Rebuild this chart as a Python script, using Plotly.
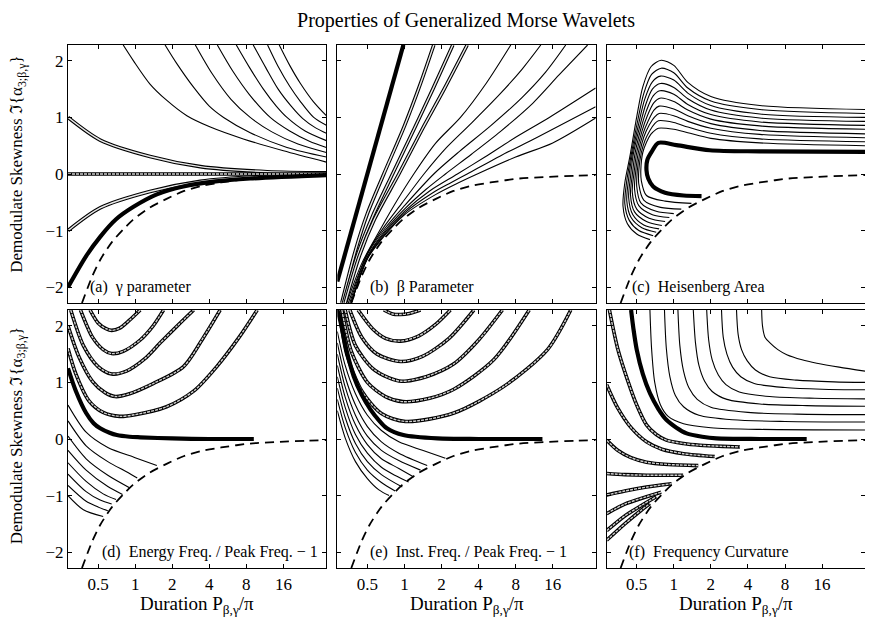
import math
import plotly.graph_objects as go
from plotly.subplots import make_subplots

# ---------------- axes ----------------
X_MIN, X_MAX = 0.285, 35.7
Y_MIN, Y_MAX = -2.28, 2.28
X_TICKS = [0.5, 1, 2, 4, 8, 16]
X_TICKTEXT = ["0.5", "1", "2", "4", "8", "16"]
Y_TICKS = [-2, -1, 0, 1, 2]

TITLE = "Properties of Generalized Morse Wavelets"
Y_TITLE = "Demodulate Skewness \u2111{\u03b1<sub>3;\u03b2,\u03b3</sub>}"
X_TITLE = "Duration P<sub>\u03b2,\u03b3</sub>/\u03c0"
PANEL_LABELS = ["(a)  \u03b3 parameter", "(b)  \u03b2 Parameter", "(c)  Heisenberg Area",
                "(d)  Energy Freq. / Peak Freq. \u2212 1", "(e)  Inst. Freq. / Peak Freq. \u2212 1",
                "(f)  Frequency Curvature"]

# ---------------- common dashed bound ----------------
DASH_X = [0.37, 0.45, 0.52, 0.65, 0.8, 0.96, 1.3, 1.8, 2.5, 3.5, 5, 8.6, 15, 25, 35.7]
DASH_Y = [-2.28, -1.8, -1.52, -1.2, -0.98, -0.81, -0.6, -0.44, -0.3, -0.21, -0.15, -0.08, -0.05, -0.03, -0.02]

# ---------------- (a) gamma parameter ----------------
A_THIN_X = [
    [0.8, 0.97, 1.32, 1.81, 2.63, 4.08, 7.56, 16, 35.7],
    [1.75, 2.18, 2.99, 4.0, 5.23, 8.6, 17.1, 35.7],
    [3.08, 4.2, 6, 8.6, 13, 21, 35.7],
    [4.65, 6.2, 8.5, 12.5, 18, 26, 35.7],
    [6.63, 8.5, 11, 14, 17.1, 24, 35.7],
    [9.1, 11.5, 14.5, 18.5, 23, 29, 35.7],
    [11.9, 14.5, 18, 22, 28.2, 35.7],
    [14.8, 18, 22, 28, 35.7],
]
A_THIN_Y = [
    [2.28, 2.0, 1.59, 1.30, 1.03, 0.83, 0.62, 0.41, 0.21],
    [2.28, 1.95, 1.53, 1.2, 1.0, 0.73, 0.47, 0.30],
    [2.28, 1.78, 1.32, 1.0, 0.74, 0.53, 0.38],
    [2.28, 1.82, 1.4, 1.0, 0.76, 0.58, 0.47],
    [2.28, 1.88, 1.5, 1.2, 1.0, 0.76, 0.59],
    [2.28, 1.88, 1.5, 1.2, 0.98, 0.82, 0.72],
    [2.28, 1.9, 1.55, 1.28, 1.0, 0.86],
    [2.28, 1.92, 1.6, 1.28, 1.03],
]
A_DOUBLE_X = [[0.285, 0.52, 1.32, 3.38, 11.8, 35.7], [0.285, 0.52, 1.32, 3.38, 11.8, 35.7]]
A_DOUBLE_Y = [[1.0, 0.60, 0.31, 0.13, 0.04, 0.02], [-1.0, -0.60, -0.31, -0.13, -0.04, -0.02]]
A_HATCH_X = [[0.285, 35.7]]
A_HATCH_Y = [[0.0, 0.0]]
A_THICK_X = [0.285, 0.4, 0.52, 0.7, 0.97, 1.5, 2.46, 4.5, 8.6, 35.7]
A_THICK_Y = [-2.0, -1.45, -1.11, -0.8, -0.58, -0.36, -0.22, -0.13, -0.08, -0.02]

# ---------------- (b) beta parameter ----------------
B_THICK_X = [0.285, 0.98]
B_THICK_Y = [-1.9, 2.28]
B_DOUBLE_X = [
    [0.31, 0.4, 0.5, 0.68, 1.0, 1.35, 1.73],
    [0.32, 0.42, 0.55, 0.8, 1.2, 1.7, 2.47],
    [0.33, 0.43, 0.57, 0.9, 1.4, 2.1, 3.23],
]
B_DOUBLE_Y = [
    [-2.28, -1.35, -0.7, 0, 0.85, 1.6, 2.28],
    [-2.28, -1.4, -0.75, 0, 0.8, 1.5, 2.28],
    [-2.28, -1.45, -0.8, 0, 0.8, 1.5, 2.28],
]
B_THIN_X = [
    [0.34, 0.45, 0.6, 0.8, 1.19, 1.8, 2.85, 4.6, 7.3],
    [0.35, 0.5, 0.7, 0.95, 1.44, 2.2, 3.5, 6, 9, 12.8],
    [0.36, 0.5, 0.7, 1.0, 1.73, 2.8, 5, 9, 14, 20.4],
    [0.37, 0.5, 0.7, 1.0, 1.5, 2.15, 3.5, 6, 11, 18, 30.7],
    [0.37, 0.5, 0.7, 1.0, 1.6, 2.69, 4.5, 8, 15, 35.7],
    [0.37, 0.5, 0.7, 1.0, 1.7, 2.4, 3.23, 6, 12, 35.7],
    [0.37, 0.5, 0.7, 1.0, 1.8, 2.6, 3.9, 8, 16, 35.7],
]
B_THIN_Y = [
    [-2.28, -1.58, -1.08, -0.6, 0, 0.55, 1.0, 1.6, 2.28],
    [-2.28, -1.4, -0.9, -0.52, 0, 0.47, 0.9, 1.42, 1.85, 2.28],
    [-2.28, -1.42, -0.95, -0.56, 0, 0.4, 0.85, 1.35, 1.8, 2.28],
    [-2.28, -1.46, -0.99, -0.62, -0.27, 0, 0.35, 0.75, 1.25, 1.75, 2.28],
    [-2.28, -1.48, -1.02, -0.66, -0.3, 0, 0.3, 0.65, 1.0, 1.52],
    [-2.28, -1.49, -1.05, -0.69, -0.33, -0.15, 0, 0.32, 0.65, 1.19],
    [-2.28, -1.5, -1.07, -0.72, -0.36, -0.18, 0, 0.3, 0.55, 0.99],
]

# ---------------- (c) Heisenberg area ----------------
C_THIN_X = [
    [1.39, 0.85, 0.60, 0.545, 0.54, 0.56, 0.60, 0.65, 0.71, 0.75, 1.0, 1.3, 2.0, 5, 35.7],
    [1.15, 0.78, 0.57, 0.52, 0.52, 0.545, 0.585, 0.64, 0.70, 0.75, 1.0, 1.3, 2.0, 5, 35.7],
    [1.0, 0.72, 0.54, 0.50, 0.505, 0.53, 0.57, 0.63, 0.70, 0.76, 1.0, 1.3, 2.0, 5, 35.7],
    [0.92, 0.67, 0.52, 0.48, 0.49, 0.515, 0.56, 0.62, 0.69, 0.76, 1.0, 1.3, 2.0, 5, 35.7],
    [0.85, 0.63, 0.50, 0.46, 0.475, 0.50, 0.55, 0.61, 0.69, 0.77, 1.0, 1.3, 2.0, 5, 35.7],
    [0.80, 0.60, 0.48, 0.445, 0.46, 0.485, 0.54, 0.60, 0.68, 0.77, 1.0, 1.3, 2.0, 5, 35.7],
    [0.76, 0.57, 0.465, 0.43, 0.445, 0.47, 0.53, 0.59, 0.67, 0.78, 1.0, 1.3, 2.0, 5, 35.7],
    [0.72, 0.55, 0.45, 0.415, 0.43, 0.46, 0.52, 0.58, 0.67, 0.78, 1.0, 1.3, 2.0, 5, 35.7],
    [0.68, 0.52, 0.435, 0.40, 0.415, 0.45, 0.51, 0.57, 0.66, 0.79, 1.0, 1.3, 2.0, 5, 35.7],
    [0.64, 0.50, 0.42, 0.387, 0.40, 0.44, 0.50, 0.56, 0.655, 0.79, 1.0, 1.3, 2.0, 5, 35.7],
]
C_THIN_Y = [
    [-0.52, -0.48, -0.38, -0.12, 0.08, 0.38, 0.56, 0.70, 0.78, 0.81, 0.79, 0.73, 0.63, 0.55, 0.50],
    [-0.62, -0.59, -0.46, -0.18, 0.07, 0.38, 0.60, 0.77, 0.89, 0.94, 0.91, 0.83, 0.72, 0.62, 0.57],
    [-0.70, -0.66, -0.51, -0.22, 0.05, 0.38, 0.65, 0.86, 1.01, 1.07, 1.03, 0.93, 0.81, 0.70, 0.64],
    [-0.77, -0.72, -0.56, -0.27, 0.03, 0.38, 0.70, 0.94, 1.13, 1.20, 1.15, 1.03, 0.89, 0.77, 0.71],
    [-0.84, -0.78, -0.62, -0.32, 0.01, 0.38, 0.75, 1.03, 1.26, 1.34, 1.28, 1.13, 0.97, 0.85, 0.79],
    [-0.91, -0.84, -0.67, -0.37, -0.02, 0.37, 0.80, 1.12, 1.38, 1.47, 1.41, 1.23, 1.05, 0.92, 0.86],
    [-0.97, -0.90, -0.72, -0.42, -0.05, 0.36, 0.85, 1.22, 1.50, 1.60, 1.53, 1.33, 1.13, 0.99, 0.93],
    [-1.03, -0.95, -0.77, -0.47, -0.08, 0.35, 0.90, 1.32, 1.63, 1.73, 1.66, 1.43, 1.21, 1.06, 1.0],
    [-1.09, -1.0, -0.82, -0.52, -0.12, 0.33, 0.95, 1.42, 1.76, 1.87, 1.79, 1.52, 1.29, 1.14, 1.07],
    [-1.16, -1.06, -0.88, -0.57, -0.16, 0.31, 1.01, 1.54, 1.90, 2.01, 1.92, 1.62, 1.37, 1.21, 1.14],
]
C_THICK_X = [1.68, 1.2, 0.85, 0.68, 0.62, 0.60, 0.61, 0.66, 0.75, 1.05, 1.96, 5, 35.7]
C_THICK_Y = [-0.39, -0.38, -0.33, -0.22, -0.08, 0.07, 0.25, 0.39, 0.55, 0.51, 0.42, 0.40, 0.39]

# ---------------- (d) energy frequency ----------------
D_DOUBLE_X = [
    [0.43, 0.5, 0.58, 0.645, 0.75, 0.9, 1.1],
    [0.36, 0.45, 0.55, 0.645, 0.8, 1.1, 1.4, 1.7],
    [0.30, 0.38, 0.5, 0.645, 0.85, 1.2, 1.6, 2.2, 2.99],
    [0.285, 0.35, 0.45, 0.57, 0.69, 0.9, 1.4, 2.47, 3.6, 4.9],
    [0.285, 0.33, 0.42, 0.55, 0.75, 1.0, 1.8, 3, 4.6, 7, 9.8],
]
D_DOUBLE_Y = [
    [2.28, 2.05, 1.95, 1.92, 1.96, 2.1, 2.28],
    [2.28, 1.8, 1.58, 1.51, 1.55, 1.75, 2.0, 2.28],
    [2.28, 1.65, 1.28, 1.15, 1.2, 1.42, 1.70, 2.0, 2.28],
    [2.0, 1.45, 1.02, 0.82, 0.75, 0.80, 0.98, 1.28, 1.8, 2.28],
    [1.6, 1.15, 0.68, 0.47, 0.40, 0.43, 0.57, 0.85, 1.28, 1.8, 2.28],
]
D_THICK_X = [0.285, 0.33, 0.40, 0.46, 0.52, 0.62, 0.71, 0.9, 1.1, 2, 4, 9.2]
D_THICK_Y = [1.25, 0.85, 0.46, 0.28, 0.19, 0.11, 0.07, 0.04, 0.03, 0.01, 0.0, 0.0]
D_THIN_X = [
    [0.285, 0.4, 0.6, 1.0, 1.5],
    [0.285, 0.4, 0.6, 0.85, 1.04],
    [0.285, 0.4, 0.6, 0.9],
    [0.285, 0.4, 0.6, 0.79],
    [0.285, 0.4, 0.55, 0.70],
    [0.285, 0.4, 0.52, 0.645],
    [0.285, 0.4, 0.5, 0.60],
    [0.285, 0.38, 0.55],
]
D_THIN_Y = [
    [0.60, 0.12, -0.15, -0.33, -0.47],
    [0.32, -0.12, -0.40, -0.58, -0.69],
    [0.05, -0.35, -0.64, -0.86],
    [-0.2, -0.55, -0.84, -0.98],
    [-0.42, -0.75, -0.97, -1.07],
    [-0.62, -0.93, -1.08, -1.15],
    [-0.82, -1.1, -1.2, -1.27],
    [-1.0, -1.25, -1.37],
]

# ---------------- (e) instantaneous frequency ----------------
E_DOUBLE_X = [
    [0.68, 0.8, 0.93, 1.1, 1.35],
    [0.42, 0.55, 0.7, 0.93, 1.3, 1.8, 2.36],
    [0.36, 0.45, 0.6, 0.93, 1.4, 2.3, 3.66],
    [0.33, 0.4, 0.55, 0.75, 0.95, 1.5, 2.52, 4, 6.24],
    [0.31, 0.37, 0.5, 0.7, 0.97, 1.6, 2.52, 5.3, 10.3],
    [0.295, 0.34, 0.45, 0.65, 1.02, 2.52, 6.42, 14.5, 22.4],
]
E_DOUBLE_Y = [
    [2.28, 2.21, 2.2, 2.22, 2.28],
    [2.28, 1.95, 1.78, 1.73, 1.82, 2.03, 2.28],
    [2.28, 1.8, 1.5, 1.37, 1.46, 1.78, 2.28],
    [2.28, 1.65, 1.25, 1.08, 1.02, 1.1, 1.33, 1.75, 2.28],
    [2.28, 1.55, 1.0, 0.75, 0.66, 0.72, 0.88, 1.40, 2.28],
    [2.28, 1.5, 0.85, 0.45, 0.31, 0.46, 0.93, 1.58, 2.28],
]
E_THICK_X = [0.285, 0.30, 0.34, 0.387, 0.45, 0.53, 0.62, 0.72, 0.98, 1.85, 4, 13.2]
E_THICK_Y = [2.28, 2.11, 1.55, 1.11, 0.78, 0.52, 0.33, 0.19, 0.07, 0.01, 0.0, 0.0]
E_THIN_X = [
    [0.285, 0.33, 0.4, 0.5, 0.65, 0.9, 1.4, 2.15],
    [0.285, 0.33, 0.4, 0.5, 0.65, 0.9, 1.53],
    [0.285, 0.33, 0.4, 0.5, 0.65, 0.9, 1.35],
    [0.285, 0.33, 0.4, 0.5, 0.65, 0.9, 1.19],
    [0.285, 0.33, 0.4, 0.5, 0.65, 0.85, 1.08],
    [0.285, 0.33, 0.4, 0.5, 0.65, 0.96],
    [0.285, 0.33, 0.4, 0.5, 0.65, 0.84],
    [0.285, 0.33, 0.4, 0.5, 0.62, 0.75],
]
E_THIN_Y = [
    [1.9, 1.3, 0.8, 0.42, 0.15, -0.05, -0.2, -0.34],
    [1.7, 1.1, 0.6, 0.22, -0.05, -0.25, -0.47],
    [1.5, 0.92, 0.42, 0.05, -0.2, -0.38, -0.55],
    [1.3, 0.74, 0.25, -0.1, -0.35, -0.52, -0.67],
    [1.1, 0.56, 0.08, -0.25, -0.5, -0.65, -0.76],
    [0.9, 0.38, -0.08, -0.4, -0.63, -0.85],
    [0.7, 0.2, -0.24, -0.55, -0.77, -0.92],
    [0.5, 0.02, -0.4, -0.7, -0.9, -1.0],
]

# ---------------- (f) frequency curvature ----------------
F_THIN_X = [
    [0.64, 0.66, 0.70, 0.78, 0.9, 1.2, 2, 5, 35.7],
    [0.84, 0.87, 0.93, 1.03, 1.2, 1.6, 3, 8, 35.7],
    [1.08, 1.12, 1.2, 1.33, 1.55, 2.0, 4, 10, 35.7],
    [1.44, 1.5, 1.6, 1.78, 2.05, 2.7, 5, 12, 35.7],
    [1.85, 1.92, 2.05, 2.3, 2.65, 3.4, 6, 14, 35.7],
    [2.44, 2.52, 2.7, 3.0, 3.5, 4.5, 8, 16, 35.7],
    [3.23, 3.33, 3.55, 3.95, 4.6, 6, 10, 20, 35.7],
    [5.17, 5.25, 5.5, 6.04, 7, 8.27, 11, 14.5, 22, 35.7],
]
F_THIN_Y = [
    [2.28, 1.6, 1.0, 0.6, 0.4, 0.27, 0.2, 0.17, 0.16],
    [2.28, 1.6, 1.1, 0.77, 0.57, 0.42, 0.34, 0.31, 0.30],
    [2.28, 1.65, 1.2, 0.9, 0.7, 0.56, 0.47, 0.44, 0.43],
    [2.28, 1.7, 1.3, 1.02, 0.84, 0.70, 0.62, 0.59, 0.58],
    [2.28, 1.75, 1.4, 1.13, 0.96, 0.83, 0.75, 0.72, 0.71],
    [2.28, 1.8, 1.5, 1.27, 1.1, 0.98, 0.91, 0.88, 0.87],
    [2.28, 1.85, 1.58, 1.38, 1.22, 1.1, 1.04, 1.01, 1.0],
    [2.28, 2.0, 1.8, 1.7, 1.58, 1.49, 1.4, 1.34, 1.27, 1.2],
]
F_THICK_X = [0.45, 0.47, 0.50, 0.56, 0.64, 0.75, 0.87, 1.05, 1.27, 1.7, 2.22, 5, 12]
F_THICK_Y = [2.28, 1.95, 1.58, 1.15, 0.81, 0.53, 0.34, 0.2, 0.10, 0.04, 0.01, 0.0, 0.0]
F_DOUBLE_X = [
    [0.30, 0.35, 0.42, 0.5, 0.6, 0.72, 0.87, 1.2, 1.63, 2.5, 3.44],
    [0.285, 0.35, 0.45, 0.6, 0.8, 1.2, 2.15],
    [0.285, 0.35, 0.45, 0.6, 0.9, 1.58],
    [0.285, 0.4, 0.6, 0.9, 1.19],
    [0.285, 0.4, 0.6, 0.96],
    [0.285, 0.4, 0.6, 0.79],
    [0.285, 0.4, 0.55, 0.72],
    [0.285, 0.4, 0.55, 0.64],
]
F_DOUBLE_Y = [
    [2.28, 1.6, 1.05, 0.6, 0.25, 0.08, -0.02, -0.08, -0.11, -0.13, -0.14],
    [0.96, 0.55, 0.2, -0.05, -0.18, -0.26, -0.31],
    [-0.02, -0.2, -0.33, -0.41, -0.45, -0.47],
    [-0.61, -0.63, -0.64, -0.64, -0.64],
    [-0.99, -0.92, -0.85, -0.79],
    [-1.32, -1.15, -1.02, -0.94],
    [-1.62, -1.36, -1.17, -1.02],
    [-1.79, -1.5, -1.25, -1.14],
]

# ---------------- figure ----------------
fig = make_subplots(rows=2, cols=3, horizontal_spacing=0.0138, vertical_spacing=0.0134)
FONT = "Liberation Serif, Times New Roman, serif"


def add(x, y, r, c, style):
    if style == "thin":
        fig.add_trace(go.Scatter(x=x, y=y, mode="lines", line=dict(color="black", width=1.1, shape="spline", smoothing=0.8)), row=r, col=c)
    elif style == "thick":
        fig.add_trace(go.Scatter(x=x, y=y, mode="lines", line=dict(color="black", width=4.2, shape="spline", smoothing=0.8)), row=r, col=c)
    elif style in ("double", "hatch"):
        fig.add_trace(go.Scatter(x=x, y=y, mode="lines", line=dict(color="black", width=3.6, shape="spline", smoothing=0.8)), row=r, col=c)
        fig.add_trace(go.Scatter(x=x, y=y, mode="lines", line=dict(color="#e8e8e8" if style == "double" else "#cfcfcf", width=1.4,
                                                                   dash="solid" if style == "double" else "3px,1px",
                                                                   shape="spline", smoothing=0.8)), row=r, col=c)
    elif style == "dash":
        fig.add_trace(go.Scatter(x=x, y=y, mode="lines", line=dict(color="black", width=1.8, dash="9px,6px", shape="spline", smoothing=0.8)), row=r, col=c)


# zero reference (dotted) lines in b-f
for (r, c) in [(1, 2), (1, 3), (2, 1), (2, 2), (2, 3)]:
    fig.add_hline(y=0, row=r, col=c, line=dict(color="black", width=1.2, dash="1px,8px"))

# (a)
for x, y in zip(A_THIN_X, A_THIN_Y):
    add(x, y, 1, 1, "thin")
for x, y in zip(A_DOUBLE_X, A_DOUBLE_Y):
    add(x, y, 1, 1, "double")
for x, y in zip(A_HATCH_X, A_HATCH_Y):
    add(x, y, 1, 1, "hatch")
add(A_THICK_X, A_THICK_Y, 1, 1, "thick")

# (b)
for x, y in zip(B_THIN_X, B_THIN_Y):
    add(x, y, 1, 2, "thin")
for x, y in zip(B_DOUBLE_X, B_DOUBLE_Y):
    add(x, y, 1, 2, "double")
add(B_THICK_X, B_THICK_Y, 1, 2, "thick")

# (c)
for x, y in zip(C_THIN_X, C_THIN_Y):
    add(x, y, 1, 3, "thin")
add(C_THICK_X, C_THICK_Y, 1, 3, "thick")

# (d)
for x, y in zip(D_THIN_X, D_THIN_Y):
    add(x, y, 2, 1, "thin")
for x, y in zip(D_DOUBLE_X, D_DOUBLE_Y):
    add(x, y, 2, 1, "hatch")
add(D_THICK_X, D_THICK_Y, 2, 1, "thick")

# (e)
for x, y in zip(E_THIN_X, E_THIN_Y):
    add(x, y, 2, 2, "thin")
for x, y in zip(E_DOUBLE_X, E_DOUBLE_Y):
    add(x, y, 2, 2, "hatch")
add(E_THICK_X, E_THICK_Y, 2, 2, "thick")

# (f)
for x, y in zip(F_THIN_X, F_THIN_Y):
    add(x, y, 2, 3, "thin")
for x, y in zip(F_DOUBLE_X, F_DOUBLE_Y):
    add(x, y, 2, 3, "hatch")
add(F_THICK_X, F_THICK_Y, 2, 3, "thick")

# dashed bound in every panel
for r in (1, 2):
    for c in (1, 2, 3):
        add(DASH_X, DASH_Y, r, c, "dash")

axis_common = dict(showline=True, linecolor="black", linewidth=1.2, mirror="ticks", ticks="inside",
                   ticklen=4, tickcolor="black", tickwidth=1, showgrid=False, zeroline=False,
                   tickfont=dict(family=FONT, size=17, color="black"))
for r in (1, 2):
    for c in (1, 2, 3):
        fig.update_xaxes(type="log", range=[math.log10(X_MIN), math.log10(X_MAX)], tickvals=X_TICKS,
                         ticktext=X_TICKTEXT, showticklabels=(r == 2), row=r, col=c, **axis_common)
        fig.update_yaxes(range=[Y_MIN, Y_MAX], tickvals=Y_TICKS, showticklabels=(c == 1),
                         row=r, col=c, **axis_common)

# panel labels
label_offsets = [0.078, 0.120, 0.089, 0.124, 0.120, 0.078]
for i, txt in enumerate(PANEL_LABELS):
    n = i + 1
    xa = "x" if n == 1 else f"x{n}"
    ya = "y" if n == 1 else f"y{n}"
    fig.add_annotation(text=txt, xref=f"{xa} domain", yref=ya, x=label_offsets[i], y=-2.0,
                       xanchor="left", yanchor="middle", showarrow=False,
                       font=dict(family=FONT, size=16, color="black"))

# axis titles
for yc in (0.771, 0.252):
    fig.add_annotation(text=Y_TITLE, xref="paper", yref="paper", x=-0.0627, y=yc, textangle=-90,
                       xanchor="center", yanchor="middle", showarrow=False,
                       font=dict(family=FONT, size=17, color="black"))
for xc in (0.162, 0.5, 0.838):
    fig.add_annotation(text=X_TITLE, xref="paper", yref="paper", x=xc, y=-0.071,
                       xanchor="center", yanchor="middle", showarrow=False,
                       font=dict(family=FONT, size=19, color="black"))

# the page adds an 8px body margin, so the figure is 8px smaller than the window
fig.update_layout(
    width=865, height=615,
    margin=dict(l=60, r=8, t=37, b=55),
    paper_bgcolor="white", plot_bgcolor="white",
    showlegend=False,
    title=dict(text=TITLE, x=0.5295, xanchor="center", y=0.9805, yanchor="middle",
               font=dict(family=FONT, size=20, color="black")),
)

fig.write_html("out.html")
